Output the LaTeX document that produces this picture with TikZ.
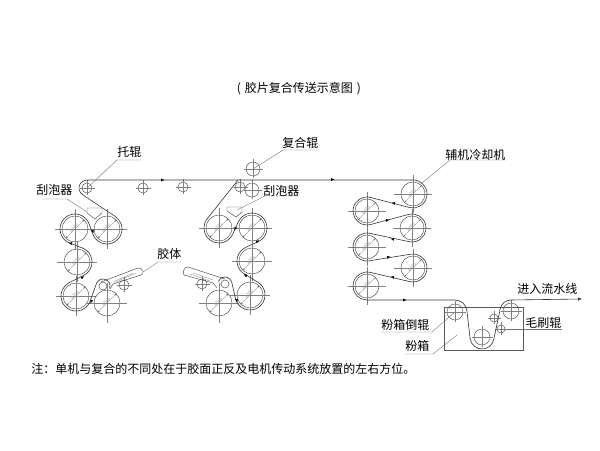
\documentclass[tikz,border=0pt]{standalone}
\usepackage{fontspec}
\setmainfont{Noto Sans CJK SC}
\usetikzlibrary{calc,arrows.meta}
\tikzset{
  axisline/.style={line width=0.22pt,black!50},
  rollerbody/.style={circle,draw=black!70,line width=0.35pt,inner sep=0pt,fill=none},
  belt/.style={line width=0.45pt,black!80},
  lead/.style={line width=0.3pt,black!55},
  dimline/.style={line width=0.2pt,black!55,{Latex[length=1.5pt,width=1pt]}-{Latex[length=1.5pt,width=1pt]}},
  dimtext/.style={rotate=45,font=\fontsize{3.2}{3.2}\selectfont,text=black!45,inner sep=0.2pt},
  lbl/.style={font=\fontsize{9}{10}\selectfont,anchor=west,inner xsep=0pt,inner ysep=1.2pt},
  flowmark/.style={-{Latex[length=2.6pt,width=2.2pt]},line width=0.3pt,black}
}
% big roller with cross axes and a diameter dimension
\newcommand\bigroller[4]{%
  \node[rollerbody,minimum size=#4*1.5pt] (#1) at (#2,#3) {};
  \draw[axisline] (#1.center) ++(-#4-7,0) -- ++(2*#4+14,0);
  \draw[axisline] (#1.center) ++(0,-#4-7) -- ++(0,2*#4+14);
  \draw[dimline] (#1.225) -- (#1.45);
  \node[dimtext] (#1dim) at ($(#1.center)+(-1,1)$) {ø300};
}
% small roller with short cross axes
\newcommand\smallroller[4]{%
  \node[rollerbody,minimum size=#4*1.5pt] (#1) at (#2,#3) {};
  \draw[axisline] (#1.center) ++(-#4-2.5,0) -- ++(2*#4+5,0);
  \draw[axisline] (#1.center) ++(0,-#4-2.5) -- ++(0,2*#4+5);
}
\newcommand\wrap[4]{-- ($(#1.center)+(#2:#3)$) arc[start angle=#2,end angle=#4,radius=#3]}
\newcommand\flowat[3]{\draw[flowmark] ($(#1,#2)+(#3+180:1.5)$) -- ($(#1,#2)+(#3:1.5)$);}
\begin{document}
\begin{tikzpicture}[x=0.75pt,y=0.75pt]
\useasboundingbox (0,0) rectangle (600,450);
\fill[white] (0,0) rectangle (600,450);

% --- texts
\node[font=\fontsize{9}{10}\selectfont,inner sep=0pt] (title) at (299,361) {(\,\,胶片复合传送示意图\,\,)};
\node[lbl] (lT) at (117,298) {托辊};
\node[lbl] (lS1) at (36,260) {刮泡器};
\node[lbl] (lF) at (282,307) {复合辊};
\node[lbl] (lS2) at (263,259) {刮泡器};
\node[lbl] (lG) at (157,196) {胶体};
\node[lbl] (lC) at (445,295) {辅机冷却机};
\node[lbl] (lOut) at (517,161) {进入流水线};
\node[lbl] (lD) at (381,125) {粉箱倒辊};
\node[lbl] (lBox) at (405,104) {粉箱};
\node[lbl] (lBr) at (525,127) {毛刷辊};
\node[lbl] (note) at (31,81) {注：单机与复合的不同处在于胶面正反及电机传动系统放置的左右方位。};

% --- powder box
\node[draw=black!65,line width=0.35pt,minimum width=79*0.75pt,minimum height=43*0.75pt,inner sep=0pt] (box) at (483.5,121.5) {};

% --- left group
\smallroller{T}{87}{262}{5}
\smallroller{T2}{143}{262}{5}
\bigroller{R1}{107}{221}{13}
\bigroller{L1}{75}{221}{13}
\bigroller{M1}{77}{188}{13}
\bigroller{B1}{76}{154}{13}
\bigroller{B2}{107}{147}{13}
\node[rollerbody,minimum size=6pt] (S1) at (103,164) {};
\smallroller{X1}{124}{165}{5}

% --- right group
\smallroller{T3}{183}{263}{5}
\smallroller{T4}{240}{263}{5}
\smallroller{F1}{253}{281}{7}
\smallroller{F2}{252}{260}{7}
\bigroller{R2}{252}{222}{13}
\bigroller{L2}{219}{222}{13}
\bigroller{M2}{252}{189}{13}
\bigroller{B3}{250}{155}{13}
\bigroller{B4}{219}{147}{13}
\node[rollerbody,minimum size=6pt] (S2) at (225,166) {};
\smallroller{X2}{202}{166}{5}

% --- cooling group
\bigroller{C1}{413}{256}{12}
\bigroller{C2}{367}{239}{12}
\bigroller{C3}{412}{222}{12}
\bigroller{C4}{367}{203}{12}
\bigroller{C5}{413}{182}{12}
\bigroller{C6}{367}{164}{12}

% --- box rollers
\smallroller{D1}{455}{138}{8}
\smallroller{D2}{482}{113}{8}
\smallroller{D3}{511}{139}{8}
\smallroller{D4}{494}{132}{4}
\smallroller{D5}{501}{121}{4}

% --- scrapers
\draw[line width=0.35pt,black!70] (87,242) -- (102,242) -- (102,237) -- (95,231) -- (87,237) -- cycle;
\draw[line width=0.35pt,black!70] (227,243) -- (242,243) -- (242,238) -- (236,233) -- (227,239) -- cycle;

% --- glue bodies
\draw[line width=0.35pt,black!70] (101,168) -- (138,182) .. controls (143,183) and (144,176) .. (141,175) -- (113,166) -- (110,161);
\draw[line width=0.22pt,black!50] (113,168) -- (133,177) (116,168) -- (136,177);
\draw[line width=0.35pt,black!70] (225,171) -- (188,183) .. controls (184,184) and (182,176) .. (184,175) -- (213,167) -- (217,162);
\draw[line width=0.22pt,black!50] (213,170) -- (193,177) (210,169) -- (190,176);

% --- webs
\draw[belt] (S1.center) ++(-20:7) arc[start angle=-20,end angle=157,radius=7]
  \wrap{B1}{-23}{15}{-243.7}
  \wrap{M1}{-63.7}{15}{68.5}
  \wrap{L1}{248.5}{15}{20}
  \wrap{R1}{-160}{15}{56.3}
  \wrap{T}{236.3}{8}{90}
  -- ($(C1.center)+(90:14)$) arc[start angle=90,end angle=-103.1,radius=14]
  \wrap{C2}{76.9}{14}{284.9}
  \wrap{C3}{104.9}{14}{-102.1}
  \wrap{C4}{77.9}{14}{279.1}
  \wrap{C5}{99.1}{14}{-103.1}
  \wrap{C6}{76.9}{14}{270}
  \wrap{D1}{90}{12}{6.5}
  \wrap{D2}{186.5}{12}{348.1}
  \wrap{D3}{168.1}{11}{90};
\coordinate (outEnd) at (582,151);
\draw[belt,-{Latex[length=3pt,width=2.6pt]}] ($(D3.center)+(90:11)$) -- (outEnd);
\coordinate (webJoin) at (238,270);
\draw[belt] (S2.center) ++(160:7) arc[start angle=160,end angle=16,radius=7]
  \wrap{B3}{196}{15}{418.3}
  \wrap{M2}{-121.7}{15}{-245.4}
  \wrap{R2}{-65.4}{15}{155.4}
  \wrap{L2}{-24.6}{15}{-218.5}
  -- (webJoin);

% --- flow marks
\flowat{163}{270}{0}
\flowat{333}{270.5}{0}
\flowat{93}{218}{-70}
\flowat{70}{207}{158.5}
\flowat{83}{173}{26.3}
\flowat{91}{148}{247}
\flowat{235}{221}{245}
\flowat{258}{209}{24.6}
\flowat{245}{175}{148.3}
\flowat{237}{149}{286}
\flowat{393}{247}{166.9}
\flowat{388}{230}{14.9}
\flowat{392}{211}{167.9}
\flowat{389}{193}{9.1}
\flowat{392}{173}{166.9}
\flowat{405}{150}{0}

% --- leaders
\coordinate (eT) at (117,290);
\draw[lead] (T.center) -- (eT) -- (lT.east |- eT);
\coordinate (eS1) at (67,251);
\coordinate (sS1) at (42,251);
\draw[lead] (87,238) -- (eS1) -- (sS1);
\coordinate (eF) at (283,300);
\draw[lead] (F1.center) -- (eF) -- (lF.east |- eF);
\coordinate (eS2) at (265,254);
\draw[lead] (237,240) -- (eS2) -- (lS2.east |- eS2);
\coordinate (eG) at (158,188);
\draw[lead] (143,178) -- (eG) -- (lG.east |- eG);
\coordinate (eC) at (450,290);
\draw[lead] (C1.center) ++(9,11) -- (eC) -- (lC.east |- eC);
\coordinate (eD) at (432,118);
\draw[lead] (D1.center) -- (eD) -- (lD.west |- eD);
\coordinate (eBox) at (433,96);
\draw[lead] (457,115) -- (eBox) -- (lBox.west |- eBox);
\draw[lead] (D5.center) -- (lBr.east |- D5.center);
\end{tikzpicture}
\end{document}
